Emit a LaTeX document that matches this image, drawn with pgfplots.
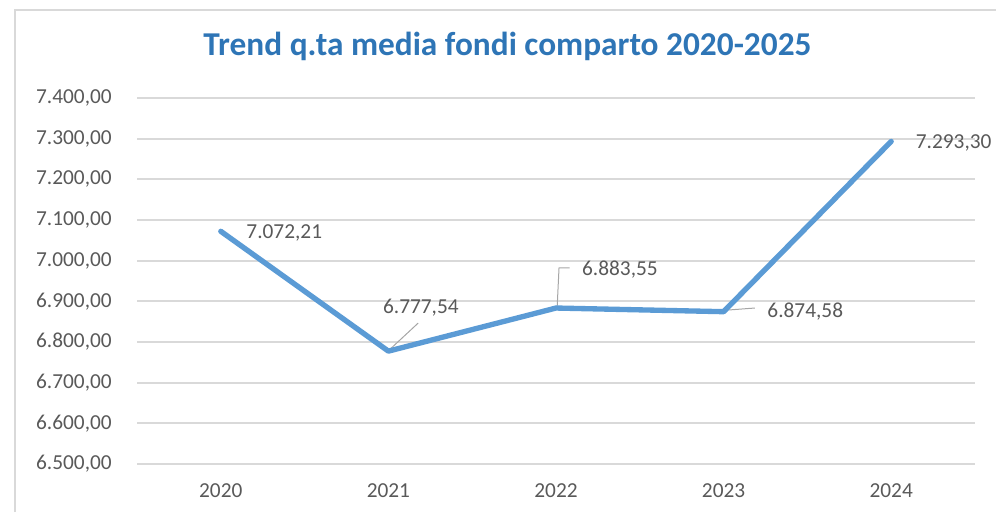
\documentclass[border=0pt]{standalone}
\usepackage{fontspec}
\setmainfont{Carlito}
\usepackage{pgfplots}
\pgfplotsset{compat=1.18}
\definecolor{linieblue}{HTML}{5B9BD5}
\definecolor{titleblue}{HTML}{2E75B6}
\definecolor{gridgray}{HTML}{D9D9D9}
\definecolor{textgray}{HTML}{595959}
\definecolor{leadergray}{HTML}{A6A6A6}
\begin{document}
\begin{tikzpicture}
\path[use as bounding box] (0pt,0pt) rectangle (747pt,384pt);
\draw[gridgray, line width=1.5pt] (11.25pt,0pt) -- (11.25pt,376.5pt) -- (747pt,376.5pt);
\node[text=titleblue, font=\bfseries\fontsize{25}{28}\selectfont] at (380.6pt,349pt) {Trend q.ta media fondi comparto 2020-2025};
\begin{axis}[
  at={(102.75pt,36pt)}, anchor=south west,
  width=628.5pt, height=274.5pt, scale only axis,
  xmin=-0.5, xmax=4.5, ymin=6500, ymax=7400,
  xtick={0,1,2,3,4}, xticklabels={2020,2021,2022,2023,2024},
  ytick distance=100,
  axis line style={draw=none}, major tick length=0pt,
  ymajorgrids, major grid style={gridgray, line width=1.5pt},
  tick label style={text=textgray, font=\fontsize{16}{19}\selectfont},
  /pgf/number format/assume math mode=true,
  yticklabel style={anchor=east, inner sep=0pt, xshift=-18.75pt,
    /pgf/number format/.cd, fixed, fixed zerofill, precision=2, use comma, 1000 sep={.}},
  xticklabel style={anchor=north, inner sep=0pt, yshift=-14.5pt},
  clip=false,
]
\addplot[leadergray, line width=0.75pt, no marks] coordinates {(1.004,6780) (1.178,6846.7)};
\addplot[leadergray, line width=0.75pt, no marks] coordinates {(2.007,6886.8) (2.018,6982) (2.081,6982)};
\addplot[leadergray, line width=0.75pt, no marks] coordinates {(3.03,6878.7) (3.187,6883.6)};
\addplot[linieblue, line width=4pt, line join=round, line cap=round, no marks,
  point meta=explicit symbolic,
  visualization depends on={value \thisrow{dx}\as\dx},
  visualization depends on={value \thisrow{dy}\as\dy},
  nodes near coords,
  nodes near coords style={anchor=west, inner sep=0pt, text=textgray, font=\fontsize{16}{19}\selectfont, xshift=\dx pt, yshift=\dy pt},
] table[x=x, y=y, meta=lab] {
x y lab dx dy
0 7072.21 7.072,21 17.25 -1.5
1 6777.54 6.777,54 -6 32.25
2 6883.55 6.883,55 17.6 28.5
3 6874.58 6.874,58 30.9 0
4 7293.30 7.293,30 16.5 -1.1
};
\end{axis}
\end{tikzpicture}
\end{document}
